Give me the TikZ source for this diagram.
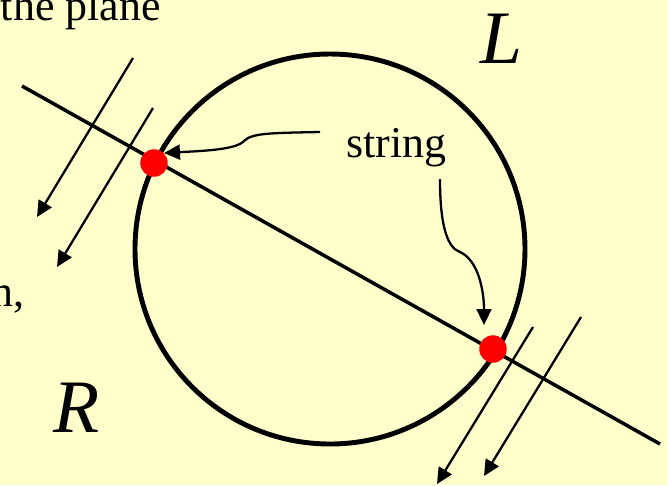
\documentclass[tikz,border=0pt]{standalone}
\usepackage{fontspec}
\setmainfont{Liberation Serif}
\definecolor{slidebg}{RGB}{255,255,204}
\definecolor{dotred}{RGB}{255,0,0}
\usetikzlibrary{arrows.meta}

\begin{document}
\begin{tikzpicture}[
    x=0.02cm, y=-0.02cm,
    txt/.style={inner sep=0pt, font=\fontsize{25}{30}\selectfont},
    big/.style={inner sep=0pt, font=\fontsize{43}{50}\selectfont\itshape},
    dot/.style={circle, fill=dotred, minimum size=0.55cm, inner sep=0pt},
    ray/.style={-{Triangle[length=0.32cm, width=0.3cm]}, line width=1.3pt},
    tag/.style={-{Triangle[length=0.32cm, width=0.3cm]}, line width=1.3pt}
]
    % Background
    \fill[slidebg] (0,0) rectangle (667,485);
    \clip (0,0) rectangle (667,485);
    \useasboundingbox (0,0) rectangle (667,485);

    % Text cut at the edges
    \node[txt, anchor=base east] (plane) at (161,20) {the plane};
    \node[txt, anchor=base east] (comma) at (25,306) {n,};

    % Circle and labels
    \draw[line width=2.8pt] (330,249) circle [radius=195];
    \node[big, anchor=base west] (L) at (480,63) {L};
    \node[big, anchor=base west] (R) at (53,432) {R};

    % Straight line
    \coordinate (a) at (22,86);
    \coordinate (b) at (660,444);
    \draw[line width=2pt] (a) -- (b);

    % Parallel arrows
    \coordinate (s1) at (133,58);  \coordinate (e1) at (37,217);
    \coordinate (s2) at (153,108); \coordinate (e2) at (57,267);
    \coordinate (s3) at (533,327); \coordinate (e3) at (437,484);
    \coordinate (s4) at (581,317); \coordinate (e4) at (484,476);
    \draw[ray] (s1) -- (e1);
    \draw[ray] (s2) -- (e2);
    \draw[ray] (s3) -- (e3);
    \draw[ray] (s4) -- (e4);

    % End points
    \node[dot] (p1) at (154,163) {};
    \node[dot] (p2) at (493,349) {};

    % String label
    \node[txt, anchor=base west] (str) at (346,157) {string};
    \coordinate (t1) at (320,132);
    \coordinate (t2) at (440,179);
    \coordinate (h2) at (484,325);
    \draw[tag] (t1) .. controls (270,133) and (252,133) .. (244,141)
        .. controls (236,150) and (200,151) .. (p1.north east);
    \draw[tag] (t2) .. controls (440,228) and (448,248) .. (460,252)
        .. controls (478,260) and (484,290) .. (h2);
\end{tikzpicture}
\end{document}
